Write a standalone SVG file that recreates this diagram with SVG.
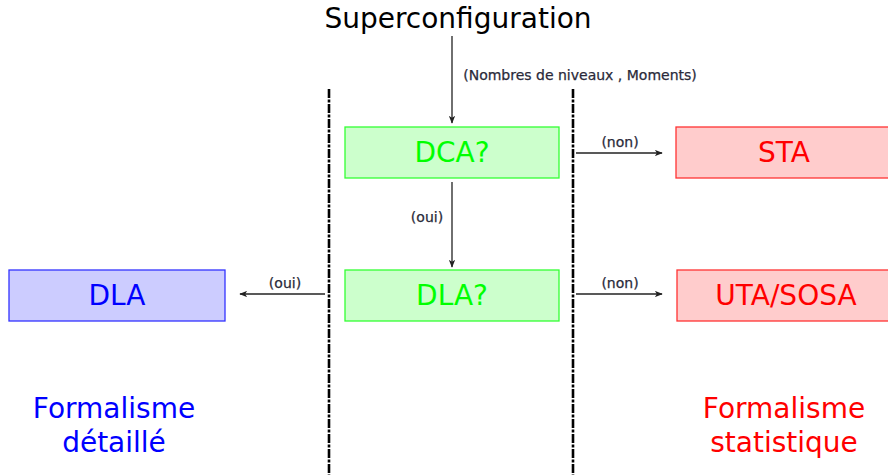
<svg xmlns="http://www.w3.org/2000/svg" width="888" height="475" viewBox="0 0 888 475">
  <style>
    .big { font-family: "DejaVu Sans", sans-serif; font-size: 28px; text-anchor: middle; }
    .lbl { font-family: "DejaVu Sans", sans-serif; font-size: 14px; fill: #2a2a3a; text-anchor: middle; stroke: #2a2a3a; stroke-width: 0.25; }
    .green rect { fill: #ccffcc; stroke: #33ff33; stroke-width: 1.3; }
    .green text { fill: #00ff00; }
    .red rect { fill: #ffcccc; stroke: #ff3333; stroke-width: 1.3; }
    .red text { fill: #ff0000; }
    .blue rect { fill: #ccccff; stroke: #3333ff; stroke-width: 1.3; }
    .blue text { fill: #0000ff; }
    .conn { stroke: #222; stroke-width: 1.3; fill: none; marker-end: url(#arr); }
    .sep { stroke: #000; stroke-width: 2.6; stroke-dasharray: 9 1.5 3 1.5; fill: none; }
  </style>
  <defs>
    <marker id="arr" viewBox="0 0 10 8" refX="9" refY="4" markerWidth="8" markerHeight="6.4" markerUnits="userSpaceOnUse" orient="auto">
      <path d="M0,0 L10,4 L0,8 L2.5,4 Z" fill="#222"/>
    </marker>
  </defs>
  <rect width="888" height="475" fill="#ffffff"/>

  <g id="title">
    <text class="big" x="458" y="28" fill="#000">Superconfiguration</text>
  </g>

  <g id="separators">
    <line class="sep" x1="329" y1="89" x2="329" y2="475"/>
    <line class="sep" x1="573" y1="89" x2="573" y2="475"/>
  </g>

  <g id="connectors">
    <line class="conn" x1="452" y1="36" x2="452" y2="123"/>
    <text class="lbl" x="580" y="80">(Nombres de niveaux , Moments)</text>
    <line class="conn" x1="452" y1="182" x2="452" y2="267"/>
    <text class="lbl" x="427" y="222">(oui)</text>
    <line class="conn" x1="576" y1="153" x2="662" y2="153"/>
    <text class="lbl" x="620" y="147">(non)</text>
    <line class="conn" x1="576" y1="294" x2="662" y2="294"/>
    <text class="lbl" x="620" y="288">(non)</text>
    <line class="conn" x1="325" y1="294" x2="240" y2="294"/>
    <text class="lbl" x="285" y="288">(oui)</text>
  </g>

  <g id="node-dca" class="green">
    <rect x="345" y="127" width="214" height="51"/>
    <text class="big" x="452" y="162">DCA?</text>
  </g>
  <g id="node-dla-q" class="green">
    <rect x="345" y="270" width="214" height="51"/>
    <text class="big" x="452" y="305">DLA?</text>
  </g>
  <g id="node-sta" class="red">
    <rect x="676" y="127" width="214" height="51"/>
    <text class="big" x="784" y="162">STA</text>
  </g>
  <g id="node-uta" class="red">
    <rect x="677" y="270" width="214" height="51"/>
    <text class="big" x="786" y="305">UTA/SOSA</text>
  </g>
  <g id="node-dla" class="blue">
    <rect x="9" y="270" width="216" height="51"/>
    <text class="big" x="117" y="305">DLA</text>
  </g>

  <g id="label-detaille">
    <text class="big" x="114" y="418" fill="#0000ff">Formalisme</text>
    <text class="big" x="114" y="452" fill="#0000ff">détaillé</text>
  </g>
  <g id="label-statistique">
    <text class="big" x="784" y="418" fill="#ff0000">Formalisme</text>
    <text class="big" x="784" y="452" fill="#ff0000">statistique</text>
  </g>
</svg>
